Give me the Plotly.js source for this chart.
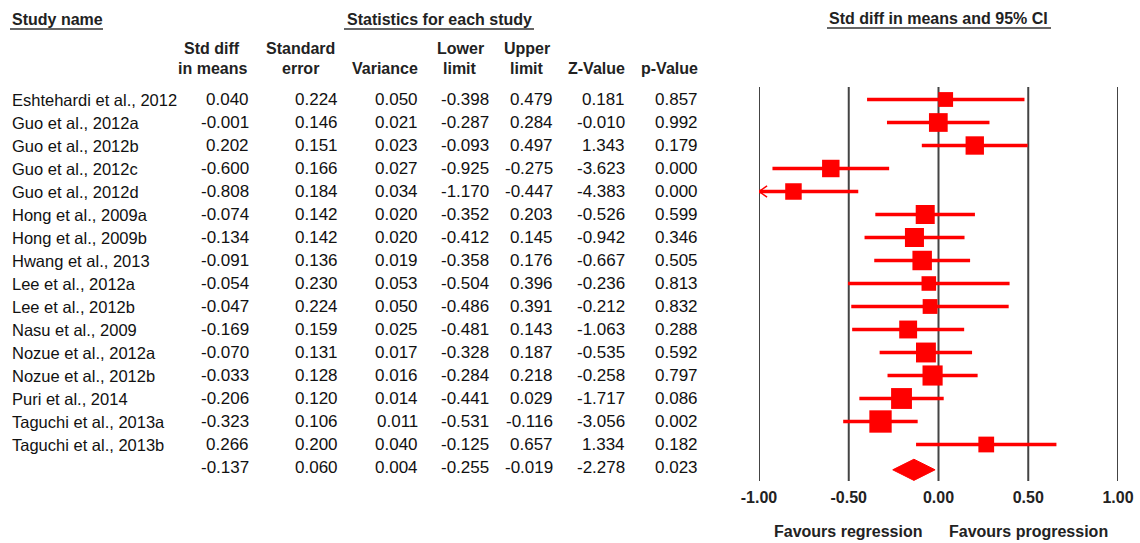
<!DOCTYPE html>
<html>
<head>
<meta charset="utf-8">
<script src="https://cdn.plot.ly/plotly-3.0.1.min.js"></script>
<style>html,body{margin:0;padding:0;background:#fff;}#chart{width:1140px;height:543px;}</style>
</head>
<body>
<div id="chart"></div>
<script>
// ---------- data ----------
const studies = ["Eshtehardi et al., 2012","Guo et al., 2012a","Guo et al., 2012b","Guo et al., 2012c","Guo et al., 2012d","Hong et al., 2009a","Hong et al., 2009b","Hwang et al., 2013","Lee et al., 2012a","Lee et al., 2012b","Nasu et al., 2009","Nozue et al., 2012a","Nozue et al., 2012b","Puri et al., 2014","Taguchi et al., 2013a","Taguchi et al., 2013b"];
const stdDiff  = [0.040,-0.001,0.202,-0.600,-0.808,-0.074,-0.134,-0.091,-0.054,-0.047,-0.169,-0.070,-0.033,-0.206,-0.323,0.266];
const stdErr   = [0.224,0.146,0.151,0.166,0.184,0.142,0.142,0.136,0.230,0.224,0.159,0.131,0.128,0.120,0.106,0.200];
const variance = [0.050,0.021,0.023,0.027,0.034,0.020,0.020,0.019,0.053,0.050,0.025,0.017,0.016,0.014,0.011,0.040];
const lowerLim = [-0.398,-0.287,-0.093,-0.925,-1.170,-0.352,-0.412,-0.358,-0.504,-0.486,-0.481,-0.328,-0.284,-0.441,-0.531,-0.125];
const upperLim = [0.479,0.284,0.497,-0.275,-0.447,0.203,0.145,0.176,0.396,0.391,0.143,0.187,0.218,0.029,-0.116,0.657];
const zValue   = [0.181,-0.010,1.343,-3.623,-4.383,-0.526,-0.942,-0.667,-0.236,-0.212,-1.063,-0.535,-0.258,-1.717,-3.056,1.334];
const pValue   = [0.857,0.992,0.179,0.000,0.000,0.599,0.346,0.505,0.813,0.832,0.288,0.592,0.797,0.086,0.002,0.182];
const summary  = {stdDiff:-0.137, stdErr:0.060, variance:0.004, lower:-0.255, upper:-0.019, z:-2.278, p:0.023};
const tickVals = [-1, -0.5, 0, 0.5, 1];
const tickText = ["-1.00","-0.50","0.00","0.50","1.00"];
const colHeads = [["Std diff","in means"],["Standard","error"],["","Variance"],["Lower","limit"],["Upper","limit"],["","Z-Value"],["","p-Value"]];

// ---------- layout helpers ----------
const W = 1140, H = 543;
const Y0 = 99.5, DY = 23;            // pixel centre of first row, row pitch
const fx = p => p / W;
const fy = p => 1 - p / H;
const FONT = "Arial, 'Liberation Sans', sans-serif";
const RED = "#ff0000";
const XMIN = -1, XMAX = 1;
const HEADFONT = {family:FONT, size:16, color:"#222"};
const NAMEFONT = {family:FONT, size:16.5, color:"#111"};
const NUMFONT  = {family:FONT, size:17, color:"#111"};

const nS = studies.length;
const sumRow = nS;

const annotations = [];
function txt(text, x, y, opts) {
  annotations.push(Object.assign({
    text: text, x: x, y: y, xref: "paper", yref: "paper",
    showarrow: false, xanchor: "left", yanchor: "middle", font: HEADFONT
  }, opts || {}));
}

// top headings
txt("<b>Study name</b>", fx(10), fy(19));
txt("<b>Statistics for each study</b>", fx(439), fy(19), {xanchor:"center"});
txt("<b>Std diff in means and 95% CI</b>", fx(938.5), fy(18), {xanchor:"center"});

// column headers
const colRight = [251, 340, 420, 491, 555, 627, 700];
const headCenter = [212, 300, 387, 460, 527, 598, 667];
colHeads.forEach((h, k) => {
  if (h[0]) txt("<b>" + h[0] + "</b>", fx(headCenter[k]), fy(49), {xanchor:"center"});
  txt("<b>" + h[1] + "</b>", fx(h[0] ? headCenter[k] : colRight[k]), fy(68), {xanchor: h[0] ? "center" : "right"});
});

// table rows
const f3 = v => v.toFixed(3);
function rowText(i, name, vals) {
  if (name) annotations.push({text:name, x:fx(10), y:i, xref:"paper", yref:"y", showarrow:false, xanchor:"left", yanchor:"middle", font:NAMEFONT});
  vals.forEach((v, k) => annotations.push({text:f3(v), x:fx(colRight[k]), y:i, xref:"paper", yref:"y", showarrow:false, xanchor:"right", yanchor:"middle", font:NUMFONT}));
}
studies.forEach((s, i) => rowText(i, s, [stdDiff[i], stdErr[i], variance[i], lowerLim[i], upperLim[i], zValue[i], pValue[i]]));
rowText(sumRow, "", [summary.stdDiff, summary.stdErr, summary.variance, summary.lower, summary.upper, summary.z, summary.p]);

// favours labels (placed on the x scale)
txt("<b>Favours regression</b>", -0.5, fy(531), {xref:"x", xanchor:"center"});
txt("<b>Favours progression</b>", 0.5, fy(531), {xref:"x", xanchor:"center"});

// ---------- traces ----------
const ciX = [], ciY = [];
studies.forEach((s, i) => {
  ciX.push(Math.max(lowerLim[i], XMIN), Math.min(upperLim[i], XMAX), null);
  ciY.push(i, i, null);
});
const ciTrace = {x:ciX, y:ciY, mode:"lines", line:{color:RED, width:3.5}, hoverinfo:"skip", cliponaxis:false, showlegend:false};

// arrows for intervals running past the axis
const arX = [], arY = [];
studies.forEach((s, i) => {
  if (lowerLim[i] < XMIN) { arX.push(XMIN + 0.045, XMIN, XMIN + 0.045, null); arY.push(i - 0.24, i, i + 0.24, null); }
  if (upperLim[i] > XMAX) { arX.push(XMAX - 0.045, XMAX, XMAX - 0.045, null); arY.push(i - 0.24, i, i + 0.24, null); }
});
const arrowTrace = {x:arX, y:arY, mode:"lines", line:{color:RED, width:1.5}, hoverinfo:"skip", cliponaxis:false, showlegend:false};

const sqTrace = {
  x: stdDiff, y: studies.map((s, i) => i), mode:"markers", opacity:1,
  marker:{symbol:"square", color:RED, opacity:1, size: stdErr.map(se => 6.5 * Math.pow(1 / se, 0.55)), line:{width:0}},
  text: studies, hoverinfo:"text+x", cliponaxis:false, showlegend:false
};

const dh = 0.46;
const diamond = {
  x:[summary.lower, summary.stdDiff, summary.upper, summary.stdDiff, summary.lower],
  y:[sumRow + 0.1, sumRow + 0.1 - dh, sumRow + 0.1, sumRow + 0.1 + dh, sumRow + 0.1],
  mode:"lines", fill:"toself", fillcolor:RED, line:{color:RED, width:1}, hoverinfo:"skip", showlegend:false, cliponaxis:false
};

// vertical reference lines
const shapes = tickVals.map(v => ({type:"line", xref:"x", yref:"paper", x0:v, x1:v, y0:fy(481), y1:fy(87), line:{color:"#444", width:2}, layer:"below"}));
// heading underlines
[[10,103,29],[344,534,29],[827,1051,28]].forEach(u => shapes.push({type:"line", xref:"paper", yref:"paper", x0:fx(u[0]), x1:fx(u[1]), y0:fy(u[2]), y1:fy(u[2]), line:{color:"#666", width:2}}));

const layout = {
  width:W, height:H, margin:{l:0, r:0, t:0, b:0}, paper_bgcolor:"#fff", plot_bgcolor:"rgba(0,0,0,0)",
  showlegend:false,
  xaxis:{domain:[fx(759), fx(1118)], range:[XMIN, XMAX], tickvals:tickVals, ticktext:tickText, showgrid:false, zeroline:false, showline:false,
         ticks:"", anchor:"free", position:(H - 486) / H, tickfont:{family:FONT, size:16, color:"#222", weight:"bold"}, fixedrange:true},
  yaxis:{domain:[0,1], range:[(H - Y0) / DY, -Y0 / DY], visible:false, fixedrange:true},
  shapes:shapes, annotations:annotations
};

Plotly.newPlot("chart", [ciTrace, arrowTrace, sqTrace, diamond], layout, {displayModeBar:false, staticPlot:true});
</script>
</body>
</html>
